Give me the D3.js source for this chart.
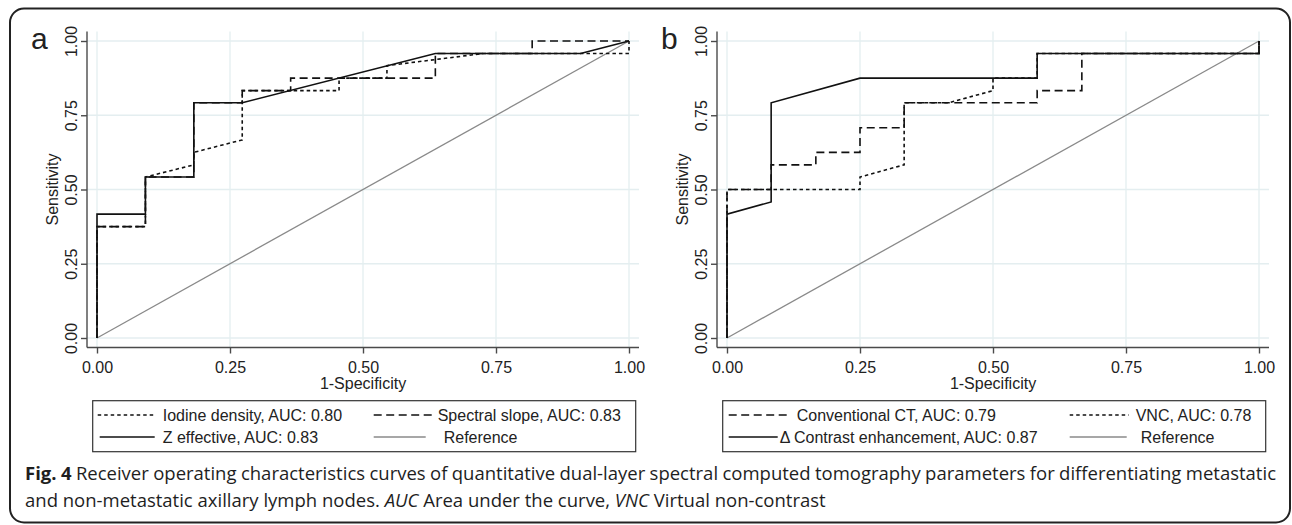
<!DOCTYPE html>
<html>
<head>
<meta charset="utf-8">
<script src="https://cdn.jsdelivr.net/npm/d3@7"></script>
<style>
  body { margin: 0; background: #fff; }
  svg text { font-family: "Liberation Sans", Arial, sans-serif; fill: #222; }
  svg text.caption { font-family: "Open Sans", sans-serif; fill: #1e1e1e; }
</style>
</head>
<body>
<div id="figure"></div>
<script>
// tick values shared by both axes of both panels
const ticks = [0, 0.25, 0.5, 0.75, 1]

// panel a, 1-specificity (fpr) and sensitivity (tpr)
const iodineFpr = [0, 0, 0.091, 0.091, 0.182, 0.182, 0.273, 0.273, 0.455, 0.455, 0.545, 0.545, 0.727, 1, 1]
const iodineTpr = [0, 0.375, 0.375, 0.542, 0.583, 0.625, 0.667, 0.833, 0.833, 0.875, 0.875, 0.917, 0.958, 0.958, 1]
const slopeFpr = [0, 0, 0.091, 0.091, 0.182, 0.182, 0.273, 0.273, 0.364, 0.364, 0.636, 0.636, 0.818, 0.818, 1]
const slopeTpr = [0, 0.375, 0.375, 0.542, 0.542, 0.792, 0.792, 0.833, 0.833, 0.875, 0.875, 0.958, 0.958, 1, 1]
const zeffFpr = [0, 0, 0.091, 0.091, 0.182, 0.182, 0.273, 0.636, 0.909, 1]
const zeffTpr = [0, 0.417, 0.417, 0.542, 0.542, 0.792, 0.792, 0.958, 0.958, 1]

// panel b
const convFpr = [0, 0, 0.083, 0.083, 0.167, 0.167, 0.25, 0.25, 0.333, 0.333, 0.583, 0.583, 0.667, 0.667, 1, 1]
const convTpr = [0, 0.5, 0.5, 0.583, 0.583, 0.625, 0.625, 0.708, 0.708, 0.792, 0.792, 0.833, 0.833, 0.958, 0.958, 1]
const vncFpr = [0, 0, 0.25, 0.25, 0.333, 0.333, 0.417, 0.5, 0.5, 0.583, 0.583, 1, 1]
const vncTpr = [0, 0.5, 0.5, 0.542, 0.583, 0.792, 0.792, 0.833, 0.875, 0.875, 0.958, 0.958, 1]
const deltaFpr = [0, 0, 0.083, 0.083, 0.25, 0.583, 0.583, 1, 1]
const deltaTpr = [0, 0.417, 0.458, 0.792, 0.875, 0.875, 0.958, 0.958, 1]

// reference diagonal
const refFpr = [0, 1]
const refTpr = [0, 1]

const legendA = ["Iodine density, AUC: 0.80", "Spectral slope, AUC: 0.83", "Z effective, AUC: 0.83", "Reference"]
const legendB = ["Conventional CT, AUC: 0.79", "VNC, AUC: 0.78", "Δ Contrast enhancement, AUC: 0.87", "Reference"]

const captionBold = "Fig. 4"
const captionLine1 = " Receiver operating characteristics curves of quantitative dual-layer spectral computed tomography parameters for differentiating metastatic"
const captionLine2 = [
  { t: "and non-metastatic axillary lymph nodes. ", i: false },
  { t: "AUC", i: true },
  { t: " Area under the curve, ", i: false },
  { t: "VNC", i: true },
  { t: " Virtual non-contrast", i: false }
]

/** line styles (Stata-like) */
const styles = {
  dotted: { stroke: '#111', width: 1.6, dash: '3.5,3' },
  dashed: { stroke: '#111', width: 1.6, dash: '8,4.5' },
  solid: { stroke: '#111', width: 1.6, dash: null },
  ref: { stroke: '#8a8a8a', width: 1.3, dash: null }
}

let width = 1292
let height = 525

let svg = d3.select('#figure')
  .append('svg')
  .attr('width', width)
  .attr('height', height)

// rounded frame round the figure
svg.append('rect')
  .attr('x', 10)
  .attr('y', 8.5)
  .attr('width', 1280)
  .attr('height', 514)
  .attr('rx', 14)
  .attr('fill', 'none')
  .attr('stroke', '#222')
  .attr('stroke-width', 2)

drawPanel(87, 'a',
  [
    { fpr: refFpr, tpr: refTpr, style: 'ref' },
    { fpr: iodineFpr, tpr: iodineTpr, style: 'dotted' },
    { fpr: slopeFpr, tpr: slopeTpr, style: 'dashed' },
    { fpr: zeffFpr, tpr: zeffTpr, style: 'solid' }
  ],
  [
    { label: legendA[0], style: 'dotted', x1: 5, x2: 62, tx: 70, row: 0 },
    { label: legendA[1], style: 'dashed', x1: 281, x2: 339, tx: 345, row: 0 },
    { label: legendA[2], style: 'solid', x1: 7, x2: 62, tx: 70, row: 1 },
    { label: legendA[3], style: 'ref', x1: 281, x2: 333, tx: 351, row: 1 }
  ])

drawPanel(717, 'b',
  [
    { fpr: refFpr, tpr: refTpr, style: 'ref' },
    { fpr: vncFpr, tpr: vncTpr, style: 'dotted' },
    { fpr: convFpr, tpr: convTpr, style: 'dashed' },
    { fpr: deltaFpr, tpr: deltaTpr, style: 'solid' }
  ],
  [
    { label: legendB[0], style: 'dashed', x1: 6, x2: 64, tx: 74, row: 0 },
    { label: legendB[1], style: 'dotted', x1: 347, x2: 406, tx: 413, row: 0 },
    { label: legendB[2], style: 'solid', x1: 6, x2: 55, tx: 57, row: 1 },
    { label: legendB[3], style: 'ref', x1: 347, x2: 404, tx: 418, row: 1 }
  ])

drawCaption()

function drawPanel(left, letter, series, legend) {
  const top = 31.5
  const bottom = 347.5
  const right = left + 552

  const x = d3.scaleLinear().domain([0, 1]).range([left + 10, left + 542])
  const y = d3.scaleLinear().domain([0, 1]).range([338, 41])

  const g = svg.append('g')

  // grid
  g.selectAll('.hgrid')
    .data(ticks)
    .enter()
    .append('line')
    .attr('x1', left)
    .attr('x2', right)
    .attr('y1', d => y(d))
    .attr('y2', d => y(d))
    .attr('stroke', '#e4eef0')
    .attr('stroke-width', 1.3)
  g.selectAll('.vgrid')
    .data(ticks)
    .enter()
    .append('line')
    .attr('x1', d => x(d))
    .attr('x2', d => x(d))
    .attr('y1', top)
    .attr('y2', bottom)
    .attr('stroke', '#e4eef0')
    .attr('stroke-width', 1.3)

  // axes
  const yAxis = g.append('g')
    .attr('transform', `translate(${left},0)`)
    .call(d3.axisLeft(y).tickValues(ticks).tickSize(6).tickFormat(d3.format('.2f')))
  const xAxis = g.append('g')
    .attr('transform', `translate(0,${bottom})`)
    .call(d3.axisBottom(x).tickValues(ticks).tickSize(6).tickFormat(d3.format('.2f')))

  yAxis.select('.domain').remove()
  xAxis.select('.domain').remove()
  g.selectAll('.tick line').attr('stroke', '#4a4a4a').attr('stroke-width', 1.4)
  g.selectAll('.tick text').attr('font-size', '16px').attr('fill', '#222')
    .attr('font-family', '"Liberation Sans", Arial, sans-serif')

  yAxis.selectAll('.tick text')
    .attr('x', 0)
    .attr('dy', null)
    .attr('text-anchor', 'middle')
    .attr('transform', 'translate(-10,0) rotate(-90)')
  xAxis.selectAll('.tick text')
    .attr('y', 25.5)
    .attr('dy', null)

  g.append('line')
    .attr('x1', left).attr('x2', left)
    .attr('y1', top).attr('y2', bottom)
    .attr('stroke', '#4a4a4a').attr('stroke-width', 1.4)
  g.append('line')
    .attr('x1', left).attr('x2', right)
    .attr('y1', bottom).attr('y2', bottom)
    .attr('stroke', '#4a4a4a').attr('stroke-width', 1.4)

  // titles
  g.append('text')
    .attr('transform', `translate(${left - 29},${(top + bottom) / 2}) rotate(-90)`)
    .attr('text-anchor', 'middle')
    .attr('font-size', '16px')
    .text('Sensitivity')
  g.append('text')
    .attr('x', (left + right) / 2)
    .attr('y', 389)
    .attr('text-anchor', 'middle')
    .attr('font-size', '16px')
    .text('1-Specificity')
  g.append('text')
    .attr('x', left - 56)
    .attr('y', 49)
    .attr('font-size', '30px')
    .attr('fill', '#111')
    .text(letter)

  // curves
  const line = d3.line().x(d => x(d[0])).y(d => y(d[1]))
  series.forEach(s => {
    const st = styles[s.style]
    g.append('path')
      .attr('d', line(d3.zip(s.fpr, s.tpr)))
      .attr('fill', 'none')
      .attr('stroke', st.stroke)
      .attr('stroke-width', st.width)
      .attr('stroke-dasharray', st.dash)
  })

  // legend
  const bx = left + 5.7
  const rowY = [415, 437]
  g.append('rect')
    .attr('x', bx)
    .attr('y', 400.7)
    .attr('width', 543)
    .attr('height', 51)
    .attr('fill', 'none')
    .attr('stroke', '#333')
    .attr('stroke-width', 1.2)
  legend.forEach(e => {
    const st = styles[e.style]
    g.append('line')
      .attr('x1', bx + e.x1).attr('x2', bx + e.x2)
      .attr('y1', rowY[e.row]).attr('y2', rowY[e.row])
      .attr('stroke', st.stroke)
      .attr('stroke-width', st.width)
      .attr('stroke-dasharray', st.dash)
    g.append('text')
      .attr('x', bx + e.tx)
      .attr('y', rowY[e.row] + 5.8)
      .attr('font-size', '16px')
      .text(e.label)
  })
}

function drawCaption() {
  const x0 = 25
  const x1 = 1276
  const endLine2 = 826
  let size = 17

  const l2 = svg.append('text')
    .attr('class', 'caption')
    .attr('x', x0)
    .attr('y', 506.5)
    .attr('font-size', size + 'px')
  captionLine2.forEach(p => {
    l2.append('tspan')
      .attr('font-style', p.i ? 'italic' : 'normal')
      .text(p.t)
  })
  // fit font size to the width of the last line
  size = size * (endLine2 - x0) / l2.node().getComputedTextLength()
  l2.attr('font-size', size + 'px')

  const l1 = svg.append('text')
    .attr('class', 'caption')
    .attr('x', x0)
    .attr('y', 480)
    .attr('font-size', size + 'px')
  l1.append('tspan').attr('font-weight', 'bold').text(captionBold)
  l1.append('tspan').text(captionLine1)

  // justify the first line
  const natural = l1.node().getComputedTextLength()
  const spaces = (captionBold + captionLine1).split(' ').length - 1
  l1.attr('word-spacing', ((x1 - x0 - natural) / spaces) + 'px')
}
</script>
</body>
</html>
